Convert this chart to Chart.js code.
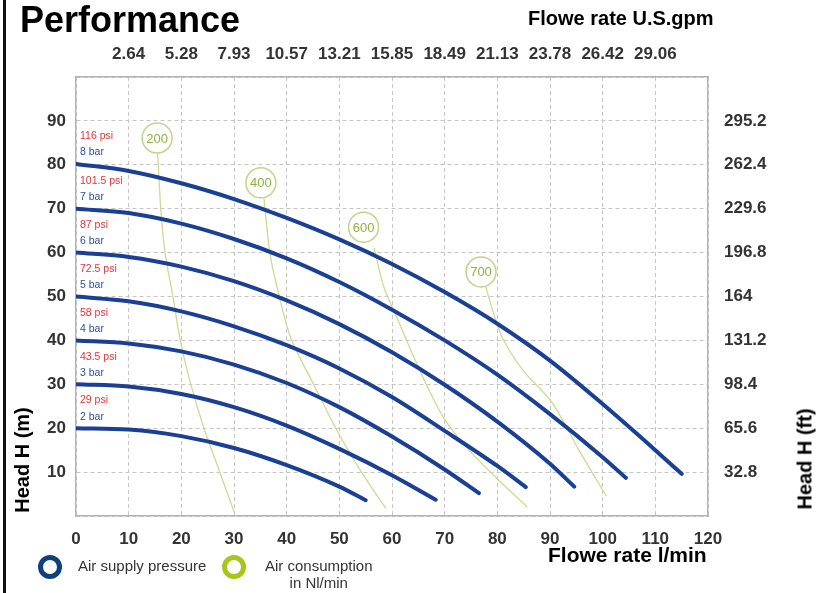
<!DOCTYPE html>
<html>
<head>
<meta charset="utf-8">
<script src="https://cdn.jsdelivr.net/npm/chart.js@4.4.1/dist/chart.umd.min.js"></script>
<style>
  body { margin: 0; background: #fff; }
  #wrap { position: relative; width: 825px; height: 593px; overflow: hidden; font-family: 'Liberation Sans', Arial, sans-serif; }
  #wrap canvas { position: absolute; left: 0; top: 0; }
  .t { position: absolute; white-space: nowrap; font-weight: bold; color: #000; }
  .leg { position: absolute; white-space: nowrap; font-size: 15px; color: #333; }
  .ring { position: absolute; width: 14px; height: 14px; border-radius: 50%; border: 5px solid; }
</style>
</head>
<body>
<div id="wrap">
  <canvas id="perf" width="825" height="593"></canvas>
  <div style="position:absolute;left:3px;top:0;width:3px;height:593px;background:#111"></div>
  <div class="t" style="left:20px;top:-1px;font-size:36px">Performance</div>
  <div class="t" style="left:528px;top:7px;font-size:20px">Flowe rate U.S.gpm</div>
  <div class="t" style="left:548px;top:543px;font-size:21px">Flowe rate l/min</div>
  <div class="t" style="left:22px;top:460px;font-size:20px;transform:translate(-50%,-50%) rotate(-90deg)">Head H (m)</div>
  <div class="t" style="left:805px;top:459px;font-size:20px;transform:translate(-50%,-50%) rotate(-90deg)">Head H (ft)</div>
  <div class="ring" style="left:38px;top:555px;border-color:#0f3f7c"></div>
  <div class="leg" style="left:78px;top:557px">Air supply pressure</div>
  <div class="ring" style="left:222px;top:555px;border-color:#a9c41c"></div>
  <div class="leg" style="left:265px;top:557px;text-align:center;line-height:17px">Air consumption<br>in Nl/min</div>
</div>
<script>
// ─── Data (flow l/min vs head m) ───────────────────────
const bar2Q = [0, 10, 20, 30, 40, 50, 55];
const bar2H = [20, 19.7, 18.2, 15.5, 11.6, 6.7, 3.6];
const bar3Q = [0, 10, 20, 30, 40, 50, 60, 68.3];
const bar3H = [30, 29.5, 27.8, 24.8, 20.6, 15.3, 9.3, 3.7];
const bar4Q = [0, 10, 20, 30, 40, 50, 60, 70, 76.5];
const bar4H = [40, 39.3, 37.5, 34.5, 30.3, 24.8, 18.1, 10.6, 5.2];
const bar5Q = [0, 10, 20, 30, 40, 50, 60, 70, 80, 85.4];
const bar5H = [50, 48.9, 46.6, 43.2, 38.9, 33.6, 27.1, 19.4, 11.4, 6.6];
const bar6Q = [0, 10, 20, 30, 40, 50, 60, 70, 80, 90, 94.6];
const bar6H = [60, 59, 56.8, 53.5, 49.1, 43.7, 37.3, 29.9, 21.5, 11.9, 6.7];
const bar7Q = [0, 10, 20, 30, 40, 50, 60, 70, 80, 90, 100, 104.4];
const bar7H = [70, 69, 66.6, 63.1, 58.7, 53.3, 47.0, 40.0, 32.2, 23.2, 13.4, 8.7];
const bar8Q = [0, 10, 20, 30, 40, 50, 60, 70, 80, 90, 100, 110, 115];
const bar8H = [80.2, 78.6, 75.8, 72.2, 67.9, 63.0, 57.4, 51.0, 43.8, 35.4, 25.5, 15.0, 9.6];

const psiLabels = ['29 psi', '43.5 psi', '58 psi', '72.5 psi', '87 psi', '101.5 psi', '116 psi'];
const barLabels = ['2 bar', '3 bar', '4 bar', '5 bar', '6 bar', '7 bar', '8 bar'];

// air consumption lines (Nl/min)
const air200Q = [15.5, 16.1, 16.9, 18.4, 19.8, 21.8, 24.3, 27.3, 30];
const air200H = [82.5, 70, 60, 50, 40, 30, 20, 10, 1];
const air400Q = [35.7, 36.8, 38.6, 40.8, 45.1, 50, 54.2, 58.8];
const air400H = [72.3, 60, 50, 40.5, 30, 18.5, 10, 1.8];
const air600Q = [56.6, 58.5, 61, 63.5, 66.5, 70, 75, 80, 85.7];
const air600H = [61, 52, 45, 38, 30, 22, 14.5, 8.5, 2];
const air700Q = [77.8, 79.2, 81, 85, 90.3, 95.5, 100.7];
const air700H = [52.2, 46.5, 40.5, 33, 26, 15, 4.5];

const airLabels = ['200', '400', '600', '700'];
const airLabelQ = [15.4, 35.1, 54.6, 76.9];
const airLabelH = [86.1, 75.9, 65.8, 55.6];

// tick labels
const gpmLabels = ['2.64', '5.28', '7.93', '10.57', '13.21', '15.85', '18.49', '21.13', '23.78', '26.42', '29.06'];
const ftLabels = ['32.8', '65.6', '98.4', '131.2', '164', '196.8', '229.6', '262.4', '295.2'];

// ─── Shared config ─────────────────────────────────────
const C = {
    curve:  '#1b3f93',
    air:    '#cbdb92',
    ring:   '#bfd488',
    airTxt: '#8cb33c',
    grid:   '#c6c6c6',
    frame:  '#b3b3b3',
    tick:   '#333333',
    psi:    '#e2343a',
    bar:    '#2c4f9c',
    font:   { size: 17, weight: 'bold', family: "'Liberation Sans', Arial, sans-serif" }
};

const pts = (q, h) => q.map((v, i) => ({ x: v, y: h[i] }));

const curves = [
    [bar2Q, bar2H], [bar3Q, bar3H], [bar4Q, bar4H], [bar5Q, bar5H],
    [bar6Q, bar6H], [bar7Q, bar7H], [bar8Q, bar8H]
];
const airLines = [[air200Q, air200H], [air400Q, air400H], [air600Q, air600H], [air700Q, air700H]];

const datasets = [];
curves.forEach(([q, h]) => datasets.push({
    data: pts(q, h),
    showLine: true,
    borderColor: C.curve,
    borderWidth: 4,
    borderCapStyle: 'round',
    cubicInterpolationMode: 'monotone',
    pointRadius: 0
}));
datasets.push({
    data: pts(airLabelQ, airLabelH),
    showLine: false,
    pointRadius: 15,
    pointBackgroundColor: '#ffffff',
    pointBorderColor: C.ring,
    pointBorderWidth: 1.5
});
airLines.forEach(([q, h]) => datasets.push({
    data: pts(q, h),
    showLine: true,
    borderColor: C.air,
    borderWidth: 1.3,
    tension: 0.3,
    pointRadius: 0
}));
const RING_SET = curves.length;

// psi / bar labels and the numbers inside the rings
const textPlugin = {
    id: 'curveText',
    afterDatasetsDraw(chart) {
        const { ctx, scales: { x, y } } = chart;
        ctx.save();
        ctx.textBaseline = 'middle';
        ctx.textAlign = 'left';
        curves.forEach(([q, h], i) => {
            const px = x.getPixelForValue(q[0]) + 4;
            ctx.font = "10.5px 'Liberation Sans', Arial, sans-serif";
            ctx.fillStyle = C.psi;
            ctx.fillText(psiLabels[i], px, y.getPixelForValue(h[0] + 6.3));
            ctx.fillStyle = C.bar;
            ctx.fillText(barLabels[i], px, y.getPixelForValue(h[0] + 2.6));
        });
        ctx.textAlign = 'center';
        ctx.font = "13px 'Liberation Sans', Arial, sans-serif";
        ctx.fillStyle = C.airTxt;
        chart.getDatasetMeta(RING_SET).data.forEach((p, i) => {
            ctx.fillText(airLabels[i], p.x, p.y + 1);
        });
        ctx.restore();
    }
};

const tickOpts = { color: C.tick, font: C.font };

new Chart(document.getElementById('perf').getContext('2d'), {
    type: 'scatter',
    data: { datasets },
    plugins: [textPlugin],
    options: {
        responsive: false,
        animation: false,
        layout: { padding: 0 },
        plugins: { legend: { display: false }, tooltip: { enabled: false } },
        scales: {
            x: {
                type: 'linear', position: 'bottom', min: 0, max: 120,
                afterFit: s => { s.height = 77; },
                grid: { color: C.grid, drawTicks: false },
                border: { color: C.frame, width: 1.5, dash: [4, 3] },
                ticks: { ...tickOpts, stepSize: 10, padding: 13, maxRotation: 0 }
            },
            xTop: {
                type: 'linear', position: 'top', axis: 'x', min: 0, max: 120,
                afterFit: s => { s.height = 77; },
                grid: { display: false, drawTicks: false },
                border: { color: C.frame, width: 1.5 },
                ticks: {
                    ...tickOpts, stepSize: 10, padding: 12, maxRotation: 0, autoSkip: false,
                    callback: v => (v >= 10 && v <= 110) ? gpmLabels[v / 10 - 1] : ''
                }
            },
            y: {
                type: 'linear', position: 'left', min: 0, max: 100,
                afterFit: s => { s.width = 76; },
                grid: { color: C.grid, drawTicks: false },
                border: { color: C.frame, width: 1.5, dash: [4, 3] },
                ticks: {
                    ...tickOpts, stepSize: 10, padding: 10,
                    callback: v => (v >= 10 && v <= 90) ? v : ''
                }
            },
            yRight: {
                type: 'linear', position: 'right', axis: 'y', min: 0, max: 100,
                afterFit: s => { s.width = 117; },
                grid: { display: false, drawTicks: false },
                border: { color: C.frame, width: 1.5 },
                ticks: {
                    ...tickOpts, stepSize: 10, padding: 16,
                    callback: v => (v >= 10 && v <= 90) ? ftLabels[v / 10 - 1] : ''
                }
            }
        }
    }
});
</script>
</body>
</html>
